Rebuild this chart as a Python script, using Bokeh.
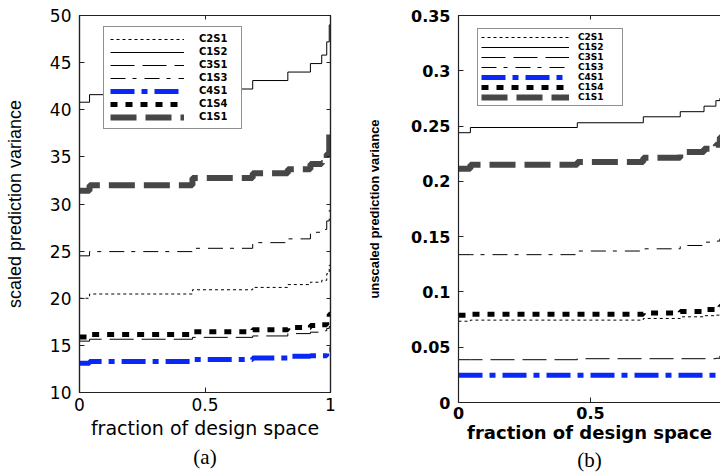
from bokeh.plotting import figure
from bokeh.layouts import row
from bokeh.models import Legend, LegendItem, LinearAxis, FixedTicker, Title, Range1d
from bokeh.embed import file_html
from bokeh.resources import INLINE

# ---- data -----------------------------------------------------------------
series_names = ["C2S1", "C1S2", "C3S1", "C1S3", "C4S1", "C1S4", "C1S1"]

# (a) scaled prediction variance, step curves over the fraction of design space
frac_a = [0, 0.04, 0.45, 0.69, 0.83, 0.92, 0.965, 0.985, 0.995, 1.0]
a_c2s1 = [20.0, 20.45, 20.9, 21.15, 21.45, 21.7, 21.9, 22.6, 23.5, 23.5]
a_c1s2 = [40.8, 41.6, 42.2, 43.1, 44.0, 44.9, 45.8, 47.2, 49.0, 50.0]
a_c3s1 = [15.45, 15.65, 15.85, 16.0, 16.25, 16.4, 16.55, 16.8, 17.0, 17.0]
a_c1s3 = [24.5, 24.95, 25.3, 25.9, 26.3, 27.0, 27.3, 28.2, 29.3, 29.3]
a_c4s1 = [13.1, 13.3, 13.5, 13.65, 13.85, 13.9, 13.9, 14.2, 14.6, 14.6]
a_c1s4 = [15.9, 16.15, 16.45, 16.65, 16.9, 17.1, 17.2, 17.6, 18.3, 18.3]
a_c1s1 = [31.4, 32.0, 32.75, 33.25, 33.7, 34.25, 34.35, 35.3, 37.6, 37.6]

# (b) unscaled prediction variance
frac_b = [0, 0.045, 0.45, 0.70, 0.84, 0.93, 0.975, 0.99, 1.0]
b_c2s1 = [0.0735, 0.0745, 0.0745, 0.0760, 0.0775, 0.0785, 0.079, 0.080, 0.080]
b_c1s2 = [0.244, 0.2487, 0.253, 0.2584, 0.263, 0.268, 0.273, 0.275, 0.275]
b_c3s1 = [0.0387, 0.0387, 0.0396, 0.0396, 0.0396, 0.0396, 0.040, 0.042, 0.042]
b_c1s3 = [0.1337, 0.1337, 0.137, 0.139, 0.142, 0.145, 0.146, 0.148, 0.148]
b_c4s1 = [0.0246, 0.0246, 0.0246, 0.0246, 0.0246, 0.0246, 0.0248, 0.026, 0.026]
b_c1s4 = [0.0788, 0.0797, 0.0797, 0.081, 0.0824, 0.0842, 0.085, 0.087, 0.087]
b_c1s1 = [0.2114, 0.215, 0.2174, 0.2214, 0.2265, 0.2295, 0.233, 0.240, 0.240]

x_ticks = [0, 0.5, 1]
x_tick_labels = ["0", "0.5", "1"]
a_y_ticks = [10, 15, 20, 25, 30, 35, 40, 45, 50]
b_y_ticks = [0, 0.05, 0.1, 0.15, 0.2, 0.25, 0.3, 0.35]
b_y_tick_labels = ["0", "0.05", "0.1", "0.15", "0.2", "0.25", "0.3", "0.35"]

series_a = [a_c2s1, a_c1s2, a_c3s1, a_c1s3, a_c4s1, a_c1s4, a_c1s1]
series_b = [b_c2s1, b_c1s2, b_c3s1, b_c1s3, b_c4s1, b_c1s4, b_c1s1]

# ---- line styles ----------------------------------------------------------
STYLES = {
    "C2S1": dict(line_color="black", line_width=1, line_dash="3 3"),
    "C1S2": dict(line_color="black", line_width=1, line_dash="solid"),
    "C3S1": dict(line_color="black", line_width=1, line_dash="24 8"),
    "C1S3": dict(line_color="black", line_width=1, line_dash="15 7 4 8"),
    "C4S1": dict(line_color="#0a28f5", line_width=5, line_dash="24 7 6 7"),
    "C1S4": dict(line_color="black", line_width=5, line_dash="7 8"),
    "C1S1": dict(line_color="#474747", line_width=6, line_dash="26 9"),
}

AXIS_COLOR = "#222222"


def style_axis(ax, font, size, style, standoff):
    ax.major_tick_in = 5
    ax.major_tick_out = 0
    ax.minor_tick_line_color = None
    ax.axis_line_color = AXIS_COLOR
    ax.axis_line_width = 1.2
    ax.major_tick_line_color = AXIS_COLOR
    ax.major_label_text_font = font
    ax.major_label_text_font_size = size
    ax.major_label_text_font_style = style
    ax.major_label_text_color = "black"
    ax.major_label_standoff = standoff
    ax.axis_label_text_color = "black"


def bare_axis(ticks):
    # tick marks only, pointing into the frame, no labels
    return LinearAxis(
        ticker=FixedTicker(ticks=ticks),
        major_label_overrides={t: "" for t in ticks},
        major_label_text_font_size="1px",
        major_label_standoff=0,
        major_tick_in=4,
        major_tick_out=0,
        minor_tick_line_color=None,
        axis_line_color=AXIS_COLOR,
        axis_line_width=1.2,
        major_tick_line_color=AXIS_COLOR,
    )


def add_curves(p, frac, series):
    items = []
    for name, ys in zip(series_names, series):
        r = p.step(x=frac, y=ys, mode="after", **STYLES[name])
        items.append(LegendItem(label=name, renderers=[r]))
    return items


# ---- panel (a) ------------------------------------------------------------
pa = figure(
    frame_width=251, frame_height=377,
    x_range=Range1d(0, 1), y_range=Range1d(10, 50),
    output_backend="svg", toolbar_location=None,
    min_border_left=79, min_border_right=30,
    min_border_top=13, min_border_bottom=82,
    x_axis_label="fraction of design space",
    y_axis_label="scaled prediction variance",
    background_fill_color="white", border_fill_color="white",
)
pa.grid.visible = False
pa.outline_line_color = AXIS_COLOR
pa.outline_line_width = 1.2

pa.xaxis.ticker = FixedTicker(ticks=x_ticks)
pa.xaxis.major_label_overrides = dict(zip(x_ticks, x_tick_labels))
pa.yaxis.ticker = FixedTicker(ticks=a_y_ticks)
for ax in pa.xaxis + pa.yaxis:
    style_axis(ax, "DejaVu Sans", "17px", "normal", 5)
pa.yaxis.major_label_standoff = 8

pa.xaxis.axis_label_text_font = "DejaVu Sans"
pa.xaxis.axis_label_text_font_size = "19px"
pa.xaxis.axis_label_text_font_style = "normal"
pa.xaxis.axis_label_standoff = 3
pa.yaxis.axis_label_text_font = "Liberation Sans"
pa.yaxis.axis_label_text_font_size = "18px"
pa.yaxis.axis_label_text_font_style = "normal"
pa.yaxis.axis_label_standoff = 22

pa.add_layout(bare_axis(x_ticks), "above")
pa.add_layout(bare_axis(a_y_ticks), "right")

items_a = add_curves(pa, frac_a, series_a)
leg_a = Legend(
    items=items_a, location=(24, 263), margin=0,
    padding=6, spacing=2, glyph_width=74, glyph_height=10, label_height=10,
    label_standoff=15, label_width=36,
    label_text_font="DejaVu Sans", label_text_font_style="bold",
    label_text_font_size="10px", label_text_color="black",
    border_line_color=AXIS_COLOR, border_line_width=1,
    background_fill_color="white", background_fill_alpha=1.0,
)
pa.add_layout(leg_a)
pa.add_layout(Title(text="(a)", align="center", offset=8, standoff=3,
                    text_font="Liberation Serif", text_font_size="21px",
                    text_font_style="normal", text_color="black"), "below")

# ---- panel (b) ------------------------------------------------------------
pb = figure(
    frame_width=262, frame_height=387,
    x_range=Range1d(0, 0.9924), y_range=Range1d(0, 0.35),
    output_backend="svg", toolbar_location=None,
    min_border_left=98, min_border_right=0,
    min_border_top=15, min_border_bottom=70,
    x_axis_label="fraction of design space",
    y_axis_label="unscaled prediction variance",
    background_fill_color="white", border_fill_color="white",
)
pb.grid.visible = False
pb.outline_line_color = None

pb.xaxis.ticker = FixedTicker(ticks=x_ticks)
pb.xaxis.major_label_overrides = dict(zip(x_ticks, x_tick_labels))
pb.yaxis.ticker = FixedTicker(ticks=b_y_ticks)
pb.yaxis.major_label_overrides = dict(zip(b_y_ticks, b_y_tick_labels))
for ax in pb.xaxis + pb.yaxis:
    style_axis(ax, "DejaVu Sans", "16px", "bold", 5)
pb.yaxis.major_label_standoff = 8
pb.xaxis.major_label_standoff = 4

pb.xaxis.axis_label_text_font = "DejaVu Sans"
pb.xaxis.axis_label_text_font_size = "18px"
pb.xaxis.axis_label_text_font_style = "bold"
pb.xaxis.axis_label_standoff = 0
pb.yaxis.axis_label_text_font = "Liberation Sans"
pb.yaxis.axis_label_text_font_size = "13px"
pb.yaxis.axis_label_text_font_style = "bold"
pb.yaxis.axis_label_standoff = 26

pb.add_layout(bare_axis(x_ticks), "above")

items_b = add_curves(pb, frac_b, series_b)
leg_b = Legend(
    items=items_b, location=(19, 296), margin=0,
    padding=3, spacing=0, glyph_width=88, glyph_height=8, label_height=8,
    label_standoff=9, label_width=41,
    label_text_font="DejaVu Sans", label_text_font_style="bold",
    label_text_font_size="9px", label_text_color="black",
    border_line_color=AXIS_COLOR, border_line_width=1,
    background_fill_color="white", background_fill_alpha=1.0,
)
pb.add_layout(leg_b)
pb.add_layout(Title(text="(b)", align="center", offset=32, standoff=0,
                    text_font="Liberation Serif", text_font_size="21px",
                    text_font_style="normal", text_color="black"), "below")

layout = row(pa, pb, spacing=0)
open("out.html", "w").write(file_html(layout, INLINE))
